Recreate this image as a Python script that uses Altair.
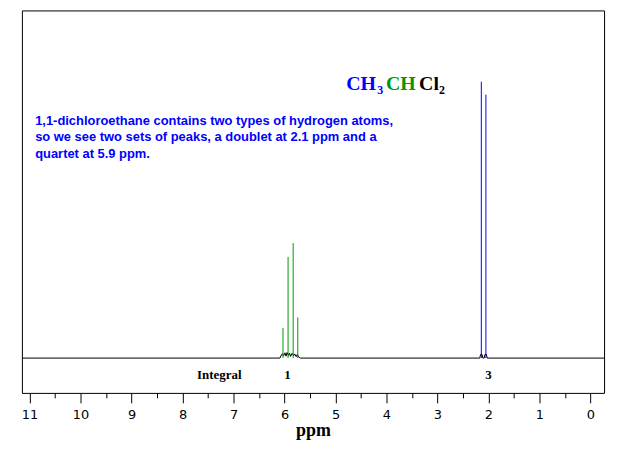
import altair as alt
import pandas as pd

# ---- data ----
doublet_ppm = [2.14, 2.05]
doublet_int = [100.0, 95.3]
quartet_ppm = [6.03, 5.93, 5.83, 5.74]
quartet_int = [10.9, 36.6, 41.6, 14.7]

trace_ppm = [11.15, 6.09, 6.06, 6.04, 6.02, 5.99, 5.97, 5.95, 5.92, 5.90, 5.88, 5.85, 5.82, 5.80, 5.77, 5.75, 5.72, 5.69,
             2.17, 2.155, 2.125, 2.11, 2.085, 2.07, 2.04, 2.025, -0.27]
trace_int = [0, 0, 1.2, 1.6, 0.8, 1.9, 0.7, 2.0, 0.9, 1.8, 0.6, 1.7, 0.8, 1.5, 0.5, 1.3, 0.4, 0,
             0, 1.3, 1.3, 0, 0, 1.3, 1.3, 0, 0]

integral_text = ["Integral", "1", "3"]
integral_ppm = [7.28, 5.94, 2.0]
integral_y = [-6.3, -6.3, -6.3]

note_lines = ["1,1-dichloroethane contains two types of hydrogen atoms,",
              "so we see two sets of peaks, a doublet at 2.1 ppm and a",
              "quartet at 5.9 ppm."]
note_ppm = [10.89, 10.89, 10.89]
note_y = [85.9, 80.0, 74.0]

formula_text = ["CH", "3", "CH", "Cl", "2"]
formula_ppm = [4.79, 4.18, 4.01, 3.36, 2.97]
formula_y = [97.0, 95.6, 97.0, 97.0, 95.6]

tick_values = [i * 0.5 for i in range(0, 23)]

BLUE = "#0000FF"
GREEN = "#009900"

xscale = alt.Scale(domain=[-0.267, 11.15], reverse=True, nice=False, zero=False)
yscale = alt.Scale(domain=[-12.6, 125.8], nice=False, zero=False)

xaxis = alt.Axis(
    values=tick_values,
    labelExpr="datum.value % 1 === 0 ? format(datum.value, 'd') : ''",
    tickSize={"condition": {"test": "datum.value % 1 === 0", "value": 10}, "value": 5},
    tickColor="black", tickWidth=1,
    domain=False, grid=False,
    labelFont="DejaVu Sans", labelFontSize=13, labelColor="black", labelPadding=6,
    labelOverlap=False, labelFlush=False, labelBound=False,
    titleFont="Liberation Serif", titleFontSize=18, titleFontWeight="bold",
    titleColor="black", titlePadding=0,
)


def X():
    return alt.X("ppm:Q", scale=xscale, axis=xaxis, title="ppm")


def Y(field):
    return alt.Y(field, scale=yscale, axis=None)


trace_df = pd.DataFrame({"ppm": trace_ppm, "h": trace_int, "i": list(range(len(trace_ppm)))})
trace = alt.Chart(trace_df).mark_line(color="black", strokeWidth=1).encode(
    x=X(), y=Y("h:Q"), order="i:Q")

q_df = pd.DataFrame({"ppm": quartet_ppm, "h": quartet_int})
quartet = alt.Chart(q_df).mark_rule(color=GREEN, strokeWidth=1).encode(
    x=X(), y=Y("h:Q"), y2=alt.datum(0))

d_df = pd.DataFrame({"ppm": doublet_ppm, "h": doublet_int})
doublet = alt.Chart(d_df).mark_rule(color=BLUE, strokeWidth=1).encode(
    x=X(), y=Y("h:Q"), y2=alt.datum(0))

int_df = pd.DataFrame({"ppm": integral_ppm, "h": integral_y, "t": integral_text})
integral = alt.Chart(int_df).mark_text(
    font="Liberation Serif", fontSize=13, fontWeight="bold", color="black",
    align="center", baseline="middle").encode(x=X(), y=Y("h:Q"), text="t:N")

note_df = pd.DataFrame({"ppm": note_ppm, "h": note_y, "t": note_lines})
note = alt.Chart(note_df).mark_text(
    font="Liberation Sans", fontSize=13, fontWeight="bold", color=BLUE,
    align="left", baseline="middle").encode(x=X(), y=Y("h:Q"), text="t:N")

f_df = pd.DataFrame({"ppm": formula_ppm, "h": formula_y, "t": formula_text})
piece_style = [(BLUE, 20), (BLUE, 12), (GREEN, 20), ("black", 20), ("black", 12)]
formula_layers = []
for idx, (col, size) in enumerate(piece_style):
    formula_layers.append(
        alt.Chart(f_df.iloc[[idx]]).mark_text(
            font="Liberation Serif", fontSize=size, fontWeight="bold", color=col,
            align="left", baseline="alphabetic").encode(x=X(), y=Y("h:Q"), text="t:N")
    )

chart = alt.layer(trace, quartet, doublet, integral, note, *formula_layers).properties(
    width=586, height=385,
    padding={"left": 12, "top": 1, "right": 5, "bottom": 5},
).configure_view(stroke="black", strokeWidth=1)

chart.save("out.html", embed_options={"renderer": "svg", "actions": False})
